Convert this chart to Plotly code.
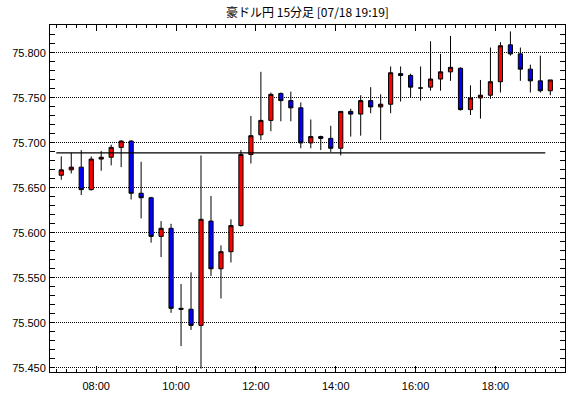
import plotly.graph_objects as go
from datetime import datetime, timedelta

# ---- data (15-minute candles, period start times) ----
period_start = [
    "07:00", "07:15", "07:30", "07:45", "08:00", "08:15", "08:30", "08:45",
    "09:00", "09:15", "09:30", "09:45", "10:00", "10:15", "10:30", "10:45",
    "11:00", "11:15", "11:30", "11:45", "12:00", "12:15", "12:30", "12:45",
    "13:00", "13:15", "13:30", "13:45", "14:00", "14:15", "14:30", "14:45",
    "15:00", "15:15", "15:30", "15:45", "16:00", "16:15", "16:30", "16:45",
    "17:00", "17:15", "17:30", "17:45", "18:00", "18:15", "18:30", "18:45",
    "19:00", "19:15",
]
open_ = [
    75.664, 75.670, 75.673, 75.648, 75.682, 75.684, 75.695, 75.702, 75.644, 75.639,
    75.596, 75.605, 75.516, 75.515, 75.497, 75.613, 75.560, 75.579, 75.608, 75.687,
    75.709, 75.725, 75.755, 75.747, 75.739, 75.700, 75.707, 75.705, 75.694, 75.735,
    75.732, 75.747, 75.740, 75.743, 75.777, 75.775, 75.761, 75.762, 75.771, 75.779,
    75.783, 75.737, 75.750, 75.753, 75.768, 75.809, 75.799, 75.782, 75.769, 75.758,
]
high = [
    75.685, 75.689, 75.692, 75.685, 75.691, 75.698, 75.703, 75.703, 75.679, 75.640,
    75.613, 75.610, 75.543, 75.556, 75.686, 75.641, 75.586, 75.615, 75.692, 75.730,
    75.779, 75.756, 75.756, 75.757, 75.745, 75.726, 75.708, 75.719, 75.735, 75.738,
    75.753, 75.762, 75.754, 75.785, 75.785, 75.777, 75.785, 75.813, 75.799, 75.819,
    75.784, 75.764, 75.770, 75.806, 75.812, 75.824, 75.806, 75.787, 75.797, 75.770,
]
low = [
    75.659, 75.666, 75.642, 75.647, 75.669, 75.675, 75.673, 75.637, 75.616, 75.589,
    75.573, 75.511, 75.474, 75.492, 75.449, 75.552, 75.527, 75.567, 75.607, 75.677,
    75.703, 75.713, 75.724, 75.724, 75.694, 75.694, 75.692, 75.690, 75.686, 75.707,
    75.708, 75.733, 75.703, 75.733, 75.746, 75.750, 75.747, 75.758, 75.758, 75.769,
    75.736, 75.731, 75.727, 75.749, 75.756, 75.797, 75.769, 75.756, 75.756, 75.753,
]
close = [
    75.670, 75.673, 75.648, 75.682, 75.684, 75.695, 75.702, 75.644, 75.639, 75.596,
    75.605, 75.516, 75.515, 75.497, 75.615, 75.560, 75.579, 75.608, 75.687, 75.708,
    75.725, 75.754, 75.747, 75.739, 75.700, 75.707, 75.705, 75.694, 75.735, 75.732,
    75.747, 75.740, 75.743, 75.778, 75.775, 75.762, 75.761, 75.771, 75.779, 75.784,
    75.737, 75.750, 75.753, 75.768, 75.808, 75.799, 75.782, 75.769, 75.758, 75.770,
]
ref_level = 75.689            # horizontal reference line
ref_from, ref_to = "07:00", "19:15"

title_text = "豪ドル円 15分足 [07/18 19:19]"
x_tick_labels = ["08:00", "10:00", "12:00", "14:00", "16:00", "18:00"]

# ---- build ----
DAY = "2019-07-18"
def t(hhmm, offset_min=0.0):
    return datetime.strptime(f"{DAY} {hhmm}", "%Y-%m-%d %H:%M") + timedelta(minutes=offset_min)

x_mid = [t(s, 7.5) for s in period_start]

fig = go.Figure()
fig.add_trace(go.Candlestick(
    x=x_mid, open=open_, high=high, low=low, close=close,
    increasing=dict(fillcolor="#ff0000", line=dict(color="#000000", width=1)),
    decreasing=dict(fillcolor="#0000ff", line=dict(color="#000000", width=1)),
    whiskerwidth=0, showlegend=False, hoverinfo="x+y",
))
fig.add_trace(go.Scatter(
    x=[t(ref_from), t(ref_to)], y=[ref_level, ref_level], mode="lines",
    line=dict(color="#000000", width=1.3), showlegend=False, hoverinfo="skip",
))

fig.update_layout(
    width=570, height=398,
    margin=dict(l=49.5, r=4.5, t=24.7, b=26, pad=0, autoexpand=False),
    paper_bgcolor="#ffffff", plot_bgcolor="#ffffff",
    boxgap=0.4,
    title=dict(text=title_text, x=(49.5 + 565.5) / 2 / 570, xanchor="center",
               y=1 - 12.5 / 398, yanchor="middle", yref="container",
               automargin=False,
               font=dict(family="Noto Sans CJK JP", size=12, color="#000000")),
    font=dict(family="Liberation Sans, Arial, sans-serif", size=11, color="#000000"),
    xaxis=dict(
        type="date", automargin=False,
        range=[t("06:50", 0.55), t("19:44", 0.55)],
        rangeslider=dict(visible=False),
        tickmode="array",
        tickvals=[t(s) for s in x_tick_labels],
        ticktext=x_tick_labels,
        ticks="inside", ticklen=6, tickcolor="#000000", tickwidth=1,
        minor=dict(dtick=15 * 60 * 1000, tick0=t("07:00"), ticks="inside",
                   ticklen=3, tickcolor="#000000", tickwidth=1, showgrid=False),
        showgrid=False, zeroline=False,
        showline=True, linecolor="#000000", linewidth=1, mirror="allticks",
        tickfont=dict(size=11),
        ticklabelstandoff=4,
    ),
    yaxis=dict(
        automargin=False,
        range=[75.4452, 75.8311],
        tickmode="linear", tick0=75.45, dtick=0.05, tickformat=".3f",
        ticks="inside", ticklen=5, tickcolor="#000000", tickwidth=1,
        minor=dict(dtick=0.01, tick0=75.45, ticks="inside", ticklen=5,
                   tickcolor="#000000", tickwidth=1, showgrid=False),
        showgrid=True, gridcolor="#000000", gridwidth=1, griddash="1px,1px",
        zeroline=False,
        showline=True, linecolor="#000000", linewidth=1, mirror="allticks",
        tickfont=dict(size=11),
        ticklabelstandoff=1,
    ),
)

fig.write_html(
    "out.html",
    config={"displayModeBar": False, "responsive": False},
    post_script="document.body.style.margin='0';document.body.style.padding='0';",
)
